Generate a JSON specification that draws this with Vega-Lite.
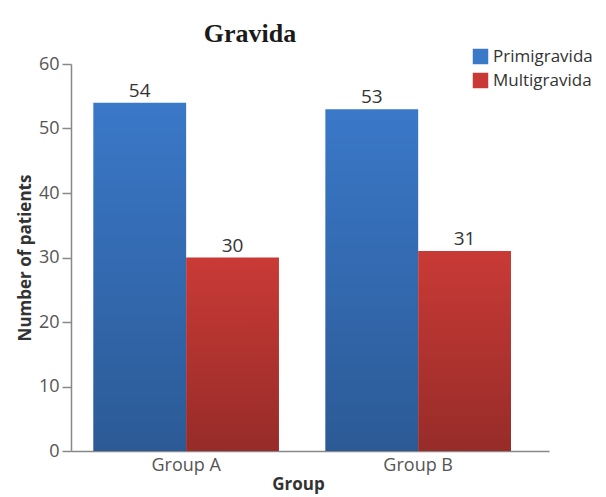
{
  "$schema": "https://vega.github.io/schema/vega-lite/v6.json",
  "width": 478,
  "height": 387,
  "autosize": {"type": "none"},
  "padding": {"left": 71, "top": 64, "right": 57, "bottom": 46},
  "background": "white",
  "title": {
    "text": "Gravida",
    "font": "Liberation Serif",
    "fontSize": 26,
    "fontWeight": "bold",
    "color": "#1a1a1a",
    "anchor": "middle",
    "frame": "group",
    "dx": -60,
    "baseline": "alphabetic",
    "offset": -20
  },
  "data": {
    "values": [
      {"group": "Group A", "series": "Primigravida", "patients": 54},
      {"group": "Group A", "series": "Multigravida", "patients": 30},
      {"group": "Group B", "series": "Primigravida", "patients": 53},
      {"group": "Group B", "series": "Multigravida", "patients": 31}
    ]
  },
  "encoding": {
    "x": {
      "field": "group",
      "type": "nominal",
      "scale": {"paddingInner": 0.2, "paddingOuter": 0.13, "align": 0.37},
      "axis": {
        "title": "Group",
        "labelAngle": 0,
        "ticks": false,
        "domainColor": "#888888",
        "domainWidth": 1.5,
        "labelFont": "Open Sans",
        "labelFontSize": 18,
        "labelColor": "#555555",
        "labelPadding": 5,
        "titleFont": "Open Sans",
        "titleFontSize": 17,
        "titleFontWeight": "bold",
        "titleColor": "#333333",
        "titlePadding": 2,
        "titleX": 227
      }
    },
    "xOffset": {"field": "series", "type": "nominal", "sort": ["Primigravida", "Multigravida"]},
    "y": {
      "field": "patients",
      "type": "quantitative",
      "scale": {"domain": [0, 60]},
      "axis": {
        "title": "Number of patients",
        "values": [0, 10, 20, 30, 40, 50, 60],
        "grid": false,
        "domainColor": "#888888",
        "domainWidth": 1.5,
        "tickColor": "#888888",
        "tickWidth": 1.5,
        "tickSize": 9,
        "labelFont": "Open Sans",
        "labelFontSize": 18,
        "labelColor": "#555555",
        "labelPadding": 3,
        "titleFont": "Open Sans",
        "titleFontSize": 17,
        "titleFontWeight": "bold",
        "titleColor": "#333333",
        "titlePadding": 4
      }
    }
  },
  "layer": [
    {
      "mark": {"type": "bar"},
      "encoding": {
        "fill": {
          "field": "series",
          "type": "nominal",
          "scale": {"domain": ["Primigravida", "Multigravida"], "range": ["#3a78c8", "#c93a36"]},
          "legend": {
            "title": null,
            "orient": "none",
            "legendX": 401,
            "legendY": -16,
            "symbolType": "square",
            "symbolSize": 240,
            "symbolStrokeWidth": 0,
            "labelFont": "Open Sans",
            "labelFontSize": 17,
            "labelColor": "#333333",
            "labelOffset": 4,
            "rowPadding": 6
          }
        }
      }
    },
    {
      "mark": {
        "type": "bar",
        "fill": {
          "gradient": "linear",
          "x1": 0, "y1": 0, "x2": 0, "y2": 1,
          "stops": [
            {"offset": 0, "color": "rgba(0,0,0,0)"},
            {"offset": 1, "color": "rgba(0,0,0,0.25)"}
          ]
        }
      },
      "encoding": {}
    },
    {
      "mark": {"type": "text", "baseline": "bottom", "dy": -2, "font": "Open Sans", "fontSize": 19, "color": "#333333"},
      "encoding": {"text": {"field": "patients", "type": "quantitative"}}
    }
  ],
  "config": {"view": {"stroke": null}}
}
